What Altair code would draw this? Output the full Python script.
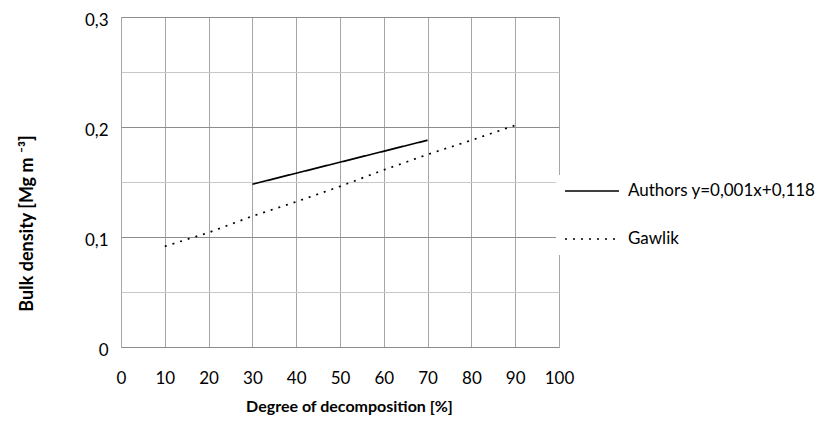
import altair as alt
import pandas as pd

# Data
authors_x = [30, 70]
authors_y = [0.148, 0.188]
gawlik_x = [10, 20, 30, 40, 50, 60, 70, 80, 90]
gawlik_y = [0.0915, 0.104, 0.119, 0.132, 0.146, 0.161, 0.175, 0.188, 0.2015]
series_names = ["Authors y=0,001x+0,118", "Gawlik"]
x_ticks = [0, 10, 20, 30, 40, 50, 60, 70, 80, 90, 100]
y_ticks = [0, 0.05, 0.1, 0.15, 0.2, 0.25, 0.3]

rows = []
for x, y in zip(authors_x, authors_y):
    rows.append({"series": series_names[0], "x": x, "y": y})
for x, y in zip(gawlik_x, gawlik_y):
    rows.append({"series": series_names[1], "x": x, "y": y})
df = pd.DataFrame(rows)

FONT = "Lato"

chart = alt.Chart(df).mark_line(color="black", strokeWidth=1.7).encode(
    x=alt.X("x:Q",
            scale=alt.Scale(domain=[0, 100], nice=False, zero=False),
            axis=alt.Axis(values=x_ticks, title="Degree of decomposition [%]",
                          domain=False, ticks=False, labelPadding=23, labelFlush=False,
                          labelFontSize=17, labelColor="black", labelFont=FONT,
                          grid=True, gridColor="#a6a6a6", gridWidth=1,
                          titleFont=FONT, titleFontSize=16, titleFontWeight="bold",
                          titleColor="black", titleX=228, titleY=59,
                          titleBaseline="middle", titleAlign="center")),
    y=alt.Y("y:Q",
            scale=alt.Scale(domain=[0, 0.3], nice=False, zero=False),
            axis=alt.Axis(values=y_ticks, title="Bulk density [Mg m ⁻³]",
                          domain=False, ticks=False, labelPadding=13, labelFlush=False,
                          labelOffset=3,
                          labelFontSize=17, labelColor="black", labelFont=FONT,
                          labelExpr="round(datum.value*100) % 10 == 5 ? '' : replace(toString(round(datum.value*10)/10), '.', ',')",
                          grid=True,
                          gridColor={"condition": {"test": "round(datum.value*100) % 10 == 5", "value": "#c8c8c8"}, "value": "#8c8c8c"},
                          gridWidth=1,
                          titleFont=FONT, titleFontSize=18, titleFontWeight="bold",
                          titleColor="black", titleX=-94, titleY=206,
                          titleBaseline="middle", titleAlign="center", titleAngle=-90)),
    strokeDash=alt.StrokeDash("series:N",
                              scale=alt.Scale(domain=series_names, range=[[1, 0], [2, 6]]),
                              legend=alt.Legend(title=None, orient="none", legendX=435, legendY=158,
                                                padding=8, fillColor="white",
                                                symbolType="stroke", symbolSize=2916,
                                                symbolStrokeColor="black", symbolStrokeWidth=1.7,
                                                clipHeight=16, rowPadding=31, labelOffset=8,
                                                labelFont=FONT, labelFontSize=17, labelColor="black",
                                                labelLimit=400)),
    order="x:Q",
).properties(
    width=438, height=330,
    autosize=alt.AutoSizeParams(type="none"),
    padding={"left": 121, "top": 17, "right": 260, "bottom": 74},
).configure_view(stroke=None).configure(background="white")

chart.save("out.html", embed_options={"renderer": "svg", "actions": False})
